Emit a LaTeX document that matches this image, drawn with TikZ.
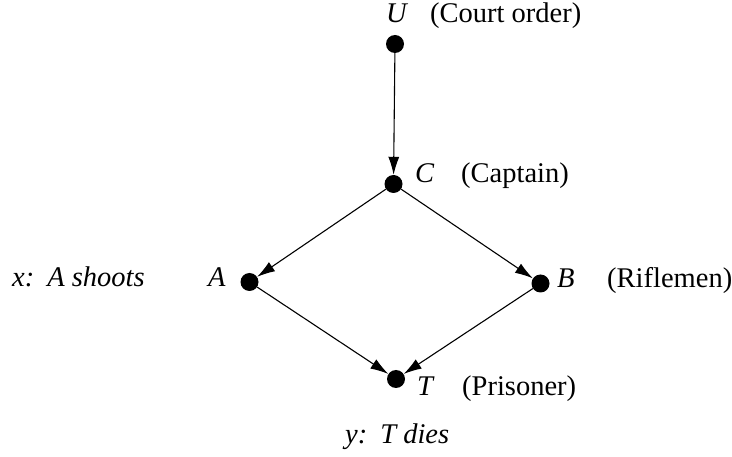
\documentclass[tikz,border=0pt]{standalone}
\usepackage{fontspec}
\setmainfont{Liberation Serif}
\usetikzlibrary{arrows.meta}
\begin{document}
\begin{tikzpicture}[x=1pt,y=-1pt,
  dot/.style={circle,fill=black,inner sep=0pt,minimum size=18pt},
  lbl/.style={inner sep=0pt,anchor=base west,font=\fontsize{28.5}{31}\selectfont},
  var/.style={lbl,font=\fontsize{28.5}{31}\selectfont\itshape},
  arr/.style={line width=1.1pt,-{Latex[length=18pt,width=11pt]},shorten >=0pt}]
\useasboundingbox (0,0) rectangle (732,457);
\node[dot] (U) at (395,44) {};
\node[dot] (C) at (393.5,184) {};
\node[dot] (A) at (249.5,282) {};
\node[dot] (B) at (540.5,283.5) {};
\node[dot] (T) at (396,379) {};
\draw[arr] (U) -- (C);
\draw[arr] (C) -- (A);
\draw[arr] (C) -- (B);
\draw[arr] (A) -- (T);
\draw[arr] (B) -- (T);
\node[var] (Ul) at (386,23) {U};
\node[lbl] (Ut) at (430,23) {(Court order)};
\node[var] (Cl) at (415,183) {C};
\node[lbl] (Ct) at (461,183) {(Captain)};
\node[var] (Al) at (208,287) {A};
\node[var] (xl) at (12,287) {x:\hspace{13pt}A shoots};
\node[var] (Bl) at (557,288) {B};
\node[lbl] (Bt) at (607,288) {(Riflemen)};
\node[var] (Tl) at (417,396) {T};
\node[lbl] (Tt) at (462,396) {(Prisoner)};
\node[var] (yl) at (345,444) {y:\hspace{13pt}T dies};
\end{tikzpicture}
\end{document}
